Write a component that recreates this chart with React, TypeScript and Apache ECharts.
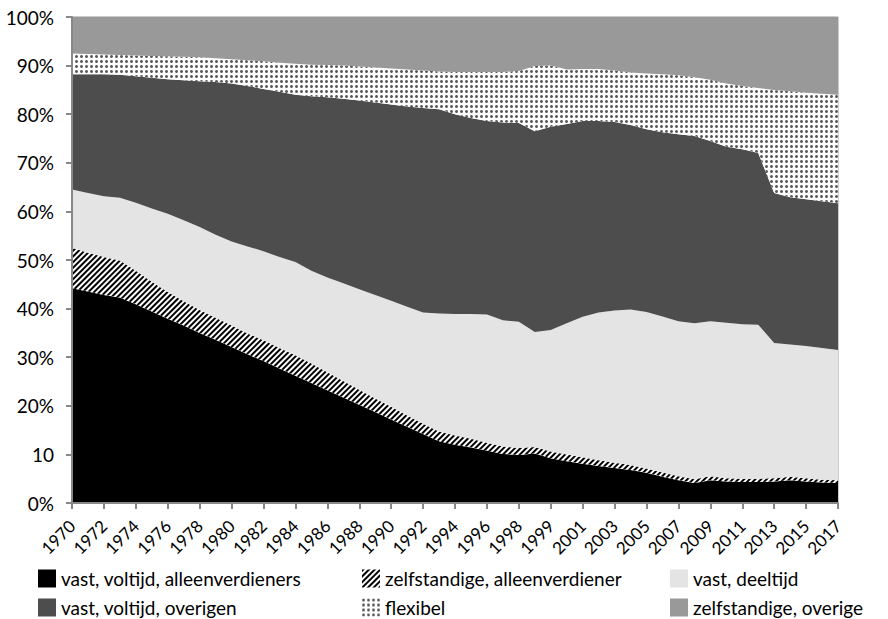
import React, { useEffect, useRef } from "react";
import * as echarts from "echarts";

const categories: string[] = [
  "1970", "1971", "1972", "1973", "1974", "1975", "1976", "1977", "1978", "1979",
  "1980", "1981", "1982", "1983", "1984", "1985", "1986", "1987", "1988", "1989",
  "1990", "1991", "1992", "1993", "1994", "1995", "1996", "1997", "1998", "1999",
  "1999", "2000", "2001", "2002", "2003", "2004", "2005", "2006", "2007", "2008",
  "2009", "2010", "2011", "2012", "2013", "2014", "2015", "2016", "2017",
];

const yTickLabels: string[] = ["0%", "10", "20%", "30%", "40%", "50%", "60%", "70%", "80%", "90%", "100%"];

const seriesNames: string[] = [
  "vast, voltijd, alleenverdieners",
  "zelfstandige, alleenverdiener",
  "vast, deeltijd",
  "vast, voltijd, overigen",
  "flexibel",
  "zelfstandige, overige",
];

const vastVoltijdAlleen: number[] = [
  44.2, 43.5, 42.8, 42.3, 40.9, 39.4, 37.9, 36.5, 35.0, 33.6,
  32.1, 30.6, 29.2, 27.7, 26.2, 24.7, 23.2, 21.7, 20.2, 18.7,
  17.2, 15.7, 14.2, 12.7, 12.0, 11.4, 10.8, 10.1, 9.9, 10.2,
  9.2, 8.6, 8.1, 7.6, 7.2, 6.8, 6.2, 5.4, 4.7, 4.1,
  4.7, 4.4, 4.3, 4.3, 4.4, 4.7, 4.4, 4.2, 4.1,
];

const zelfstandigeAlleen: number[] = [
  8.3, 8.0, 7.8, 7.6, 6.9, 6.1, 5.5, 5.0, 4.7, 4.5,
  4.4, 4.3, 4.3, 4.2, 4.2, 4.0, 3.7, 3.4, 3.1, 2.8,
  2.6, 2.3, 2.1, 2.0, 1.9, 1.8, 1.6, 1.5, 1.4, 1.3,
  1.4, 1.4, 1.3, 1.2, 1.1, 1.0, 0.9, 0.9, 0.8, 0.8,
  0.8, 0.7, 0.7, 0.7, 0.7, 0.7, 0.7, 0.6, 0.6,
];

const vastDeeltijd: number[] = [
  12.0, 12.3, 12.5, 12.9, 14.0, 15.1, 16.1, 16.7, 17.1, 17.1,
  17.3, 17.9, 18.3, 18.7, 19.2, 19.1, 19.5, 20.1, 20.7, 21.3,
  21.8, 22.4, 22.9, 24.3, 25.0, 25.7, 26.4, 26.0, 26.0, 23.7,
  25.0, 27.0, 28.9, 30.4, 31.3, 32.0, 32.2, 32.1, 31.9, 32.1,
  31.9, 32.0, 31.8, 31.7, 27.8, 27.2, 27.2, 27.1, 26.8,
];

const vastVoltijdOverig: number[] = [
  23.7, 24.4, 25.1, 25.3, 26.0, 26.9, 27.7, 28.8, 30.0, 31.4,
  32.5, 33.0, 33.4, 34.0, 34.4, 35.9, 37.1, 38.0, 38.8, 39.6,
  40.4, 41.2, 42.1, 42.0, 41.1, 40.3, 39.8, 40.7, 40.9, 41.3,
  41.8, 41.0, 40.3, 39.4, 38.8, 38.0, 37.6, 37.9, 38.5, 38.5,
  37.1, 36.2, 36.0, 35.3, 30.9, 30.3, 30.2, 30.2, 30.2,
];

const flexibel: number[] = [
  4.3, 4.2, 4.1, 4.1, 4.3, 4.5, 4.7, 4.8, 4.9, 4.9,
  5.0, 5.3, 5.7, 6.0, 6.4, 6.5, 6.6, 6.8, 7.0, 7.2,
  7.4, 7.6, 7.7, 7.8, 8.7, 9.5, 10.1, 10.4, 10.7, 13.4,
  12.6, 11.2, 10.7, 10.7, 10.6, 10.8, 11.5, 11.9, 12.1, 12.1,
  12.6, 13.0, 13.0, 13.4, 21.2, 21.8, 21.9, 22.1, 22.3,
];

const zelfstandigeOverig: number[] = [
  7.5, 7.6, 7.7, 7.8, 7.9, 8.0, 8.1, 8.2, 8.3, 8.5,
  8.7, 8.9, 9.1, 9.4, 9.6, 9.8, 9.9, 10.0, 10.2, 10.4,
  10.6, 10.8, 11.0, 11.2, 11.3, 11.3, 11.3, 11.3, 11.1, 10.1,
  10.0, 10.8, 10.7, 10.7, 11.0, 11.4, 11.6, 11.8, 12.0, 12.4,
  12.9, 13.7, 14.2, 14.6, 15.0, 15.3, 15.6, 15.8, 16.0,
];

const FONT = "Lato, 'Open Sans', sans-serif";

export default function App() {
  const ref = useRef<HTMLDivElement>(null);

  useEffect(() => {
    document.body.style.margin = "0";
    if (!ref.current) return;
    const chart = echarts.init(ref.current, undefined, { renderer: "svg" });

    const values = [
      vastVoltijdAlleen,
      zelfstandigeAlleen,
      vastDeeltijd,
      vastVoltijdOverig,
      flexibel,
      zelfstandigeOverig,
    ];
    const styles: any[] = [
      { color: "#000000" },
      {
        color: "#ffffff",
        decal: {
          symbol: "rect",
          symbolSize: 1,
          color: "#000000",
          dashArrayX: [1, 0],
          dashArrayY: [2, 1.6],
          rotation: -Math.PI / 4,
        },
      },
      { color: "#e4e4e4" },
      { color: "#4d4d4d" },
      {
        color: "#ffffff",
        decal: {
          symbol: "circle",
          symbolSize: 1,
          color: "#5a5a5a",
          dashArrayX: [2.7, 1.5],
          dashArrayY: [2.7, 1.5],
          rotation: 0,
        },
      },
      { color: "#999999" },
    ];

    const series = seriesNames.map((name, i) => ({
      name,
      type: "line",
      stack: "total",
      data: values[i],
      showSymbol: false,
      symbol: "none",
      lineStyle: { width: 0, opacity: 0 },
      itemStyle: styles[i],
      areaStyle: { opacity: 1, color: styles[i].color, decal: styles[i].decal },
      emphasis: { disabled: true },
    }));

    const legendBase = {
      orient: "vertical",
      top: 569,
      height: 80,
      padding: 0,
      itemWidth: 18,
      itemHeight: 18,
      itemGap: 10,
      icon: "rect",
      selectedMode: false,
      textStyle: { fontFamily: FONT, fontSize: 19, color: "#000" },
    };

    chart.setOption({
      animation: false,
      backgroundColor: "#ffffff",
      grid: {
        left: 72,
        right: 50,
        top: 17,
        bottom: 116,
        show: true,
        borderColor: "#999999",
        borderWidth: 1,
        backgroundColor: "transparent",
      },
      legend: [
        { ...legendBase, left: 38, data: [seriesNames[0], seriesNames[3]] },
        { ...legendBase, left: 362, data: [seriesNames[1], seriesNames[4]] },
        { ...legendBase, left: 670, data: [seriesNames[2], seriesNames[5]] },
      ],
      xAxis: {
        type: "category",
        data: categories,
        boundaryGap: false,
        axisLine: { show: true, lineStyle: { color: "#888888", width: 2 } },
        axisTick: { show: true, interval: 1, length: 6, lineStyle: { color: "#888888", width: 2 } },
        axisLabel: {
          interval: 1,
          rotate: 45,
          margin: 20,
          fontFamily: FONT,
          fontSize: 17,
          color: "#000",
        },
        splitLine: { show: false },
        z: 10,
      },
      yAxis: {
        type: "value",
        min: 0,
        max: 100,
        interval: 10,
        axisLine: { show: true, lineStyle: { color: "#888888", width: 2 } },
        axisTick: { show: true, length: 6, lineStyle: { color: "#888888", width: 2 } },
        axisLabel: {
          fontFamily: FONT,
          fontSize: 19,
          color: "#000",
          margin: 18,
          formatter: (v: number) => yTickLabels[Math.round(v / 10)] ?? "",
        },
        splitLine: { show: false },
        z: 10,
      },
      series,
    });

    return () => chart.dispose();
  }, []);

  return <div ref={ref} style={{ width: 888, height: 619 }} />;
}
